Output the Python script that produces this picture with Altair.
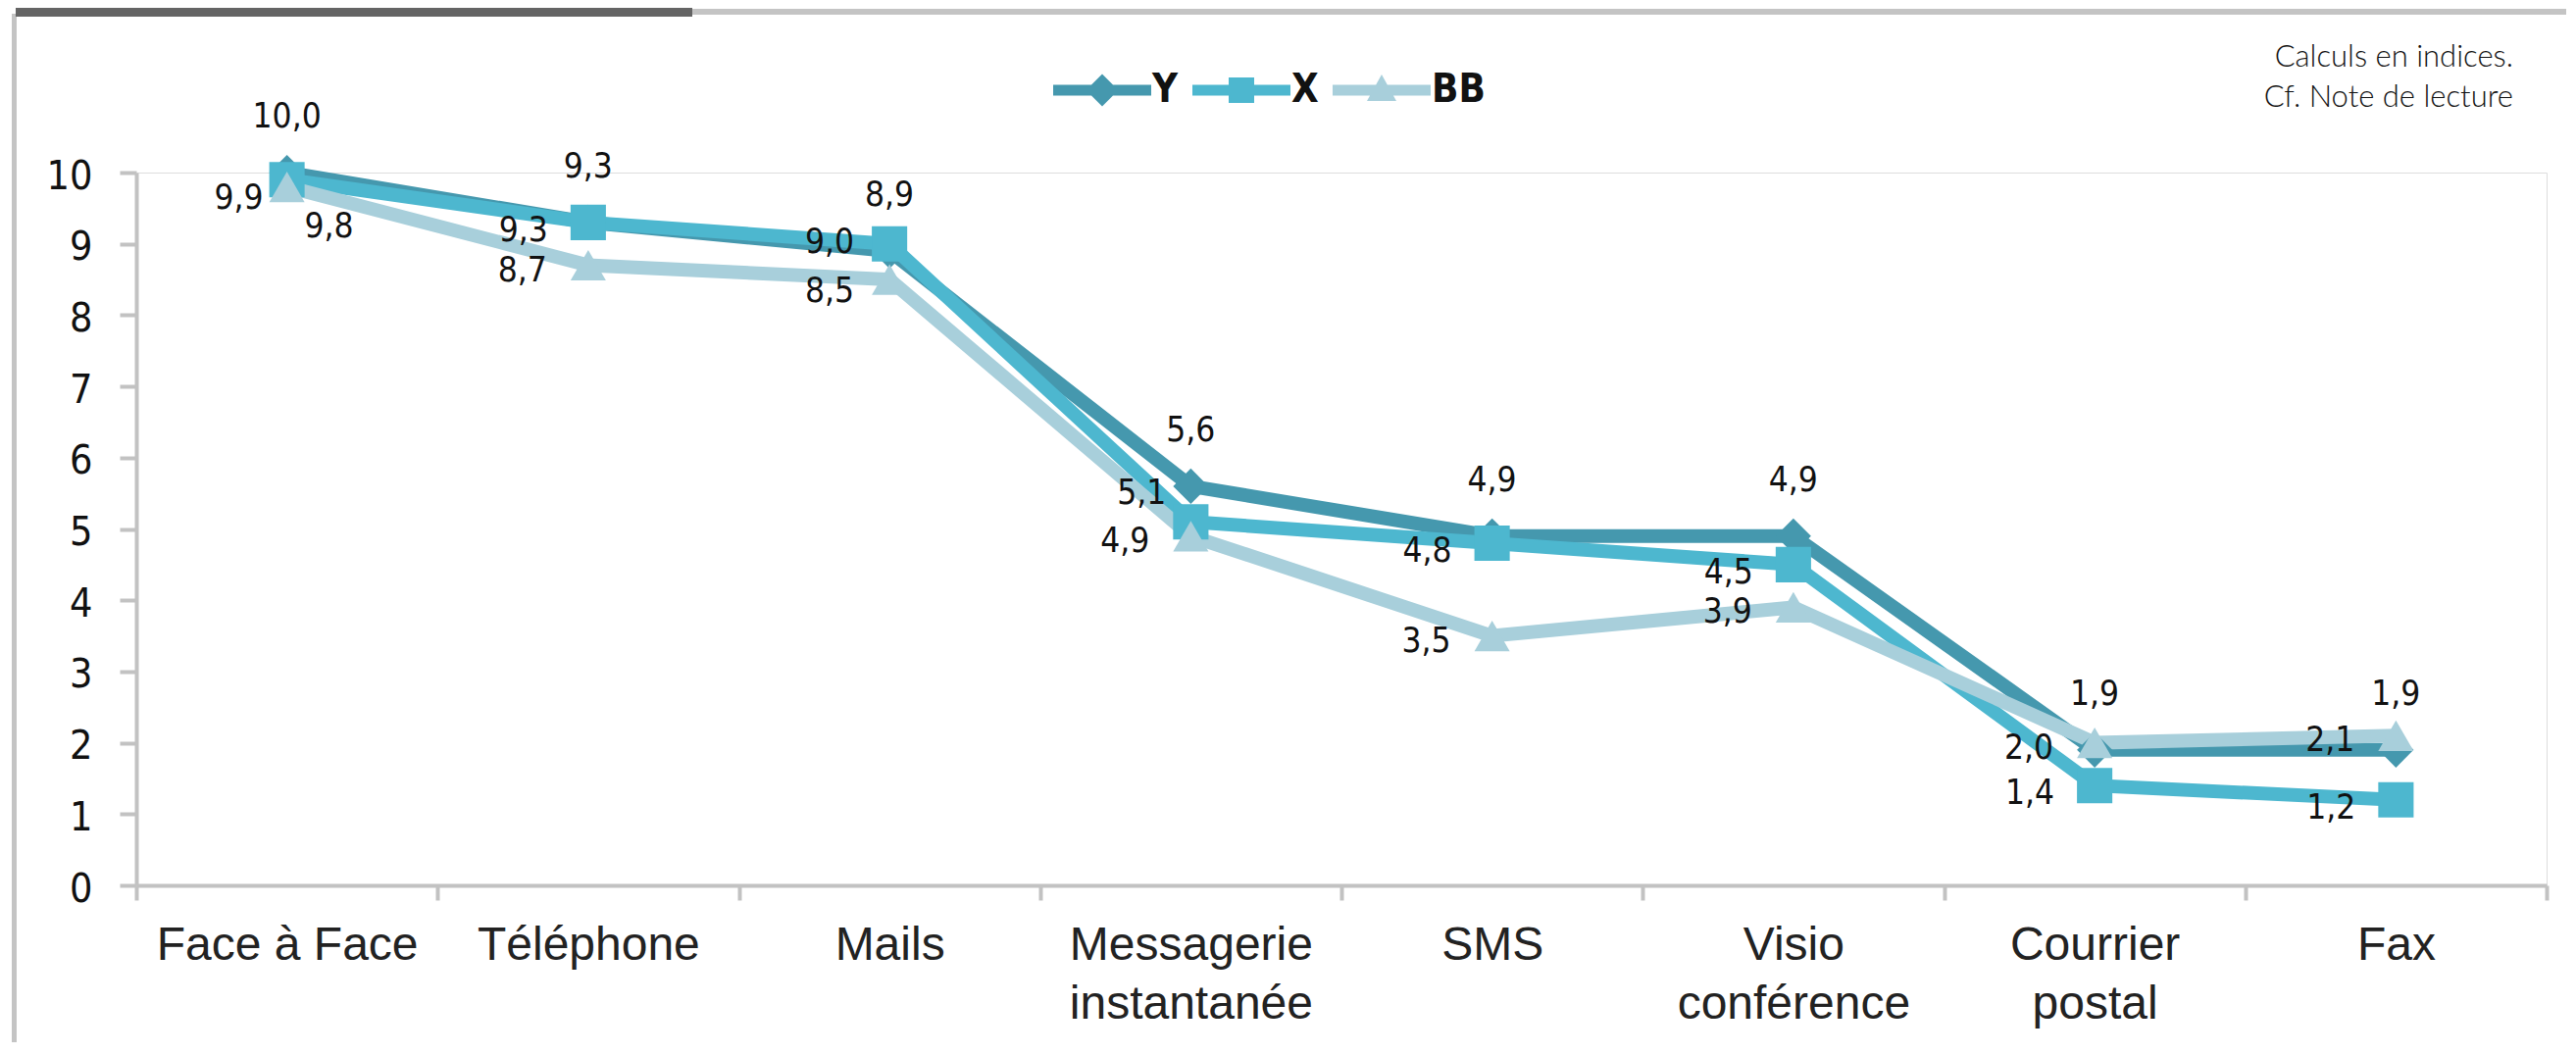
import altair as alt
import pandas as pd

# ---------------- data ----------------
categories = ["Face à Face", "Téléphone", "Mails", "Messagerie\ninstantanée",
              "SMS", "Visio\nconférence", "Courrier\npostal", "Fax"]
series_names = ["Y", "X", "BB"]
y_values = [10.0, 9.3, 8.9, 5.6, 4.9, 4.9, 1.9, 1.9]
x_values = [9.9, 9.3, 9.0, 5.1, 4.8, 4.5, 1.4, 1.2]
bb_values = [9.8, 8.7, 8.5, 4.9, 3.5, 3.9, 2.0, 2.1]
y_ticks = list(range(0, 11))
note_lines = ["Calculs en indices.", "Cf. Note de lecture"]

# ---------------- styles ----------------
colors = {"Y": "#4598AE", "X": "#4DB7CF", "BB": "#A8CFDB"}
shapes = {"Y": "diamond", "X": "square", "BB": "triangle-up"}
legend_paths = [
    "M-1,-0.11 L1,-0.11 L1,0.11 L-1,0.11 Z M0,-0.33 L0.33,0 L0,0.33 L-0.33,0 Z",
    "M-1,-0.11 L1,-0.11 L1,0.11 L-1,0.11 Z M-0.26,-0.26 L0.26,-0.26 L0.26,0.26 L-0.26,0.26 Z",
    "M-1,-0.11 L1,-0.11 L1,0.11 L-1,0.11 Z M0,-0.32 L0.3,0.22 L-0.3,0.22 Z",
]
NUM_FONT = "DejaVu Sans Condensed, DejaVu Sans, sans-serif"
CAT_FONT = "Liberation Sans, Arial, sans-serif"

# label placement per series: (align, dx, dy) default and per-category overrides
label_style = {
    "Y": (("center", 0, -57), {}),
    "X": (("right", -41, 8), {categories[0]: ("right", -24, 19),
                              categories[2]: ("right", -36, -2),
                              categories[3]: ("right", -25, -29)}),
    "BB": (("right", -42, 5), {categories[0]: ("center", 43, 40),
                               categories[2]: ("right", -36, 12)}),
}

rows = []
for s, vals in zip(series_names, [y_values, x_values, bb_values]):
    for c, v in zip(categories, vals):
        rows.append({"cat": c, "series": s, "v": v})
df = pd.DataFrame(rows)

W, H = 2458, 727

base = alt.Chart(df).transform_calculate(
    lbl="replace(format(datum.v, '.1f'), '.', ',')"
).encode(
    x=alt.X("cat:N", sort=categories, title=None,
            scale=alt.Scale(type="band", paddingInner=0, paddingOuter=0),
            axis=alt.Axis(labelAngle=0, tickBand="extent", tickSize=15, tickWidth=4,
                          tickColor="#c2c2c2", domainColor="#c2c2c2", domainWidth=4,
                          labelFont=CAT_FONT, labelFontSize=48, labelColor="#222222",
                          labelPadding=22, labelLineHeight=60, labelLimit=0,
                          labelExpr="split(datum.label, '\\n')")),
    y=alt.Y("v:Q", title=None,
            scale=alt.Scale(domain=[0, 10], nice=False, zero=True),
            axis=alt.Axis(values=y_ticks, grid=False, tickSize=17, tickWidth=4,
                          tickColor="#c2c2c2", domainColor="#c2c2c2", domainWidth=4,
                          labelFont=NUM_FONT, labelFontSize=41, labelColor="#111111",
                          labelPadding=28, labelOffset=4)),
)

layers = []
for s in series_names:
    layers.append(base.transform_filter(alt.datum.series == s)
                  .mark_line(color=colors[s], strokeWidth=14))
for s in series_names:
    layers.append(base.transform_filter(alt.datum.series == s)
                  .mark_point(shape=shapes[s], filled=True, opacity=1,
                              color=colors[s], size=1300))

# data labels
lab_common = dict(font=NUM_FONT, fontSize=35, color="#111111", baseline="middle")
for s in series_names:
    default, overrides = label_style[s]
    groups = {}
    for c in categories:
        groups.setdefault(overrides.get(c, default), []).append(c)
    for (al, dx, dy), cats in groups.items():
        layers.append(
            base.transform_filter(alt.datum.series == s)
            .transform_filter(alt.FieldOneOfPredicate(field="cat", oneOf=cats))
            .mark_text(align=al, dx=dx, dy=dy, **lab_common)
            .encode(text="lbl:N"))

# legend (driven by an empty layer)
leg = dict(orient="none", direction="horizontal", legendX=935, legendY=-134,
           symbolSize=10000, symbolStrokeWidth=0, labelFont=NUM_FONT,
           labelFontSize=40, labelFontWeight="bold", labelColor="#111111",
           labelOffset=1, columnPadding=14, padding=0)
legend_layer = base.transform_filter("false").mark_point(filled=True, opacity=1).encode(
    color=alt.Color("series:N", title=None,
                    scale=alt.Scale(domain=series_names, range=[colors[s] for s in series_names]),
                    legend=alt.Legend(**leg)),
    shape=alt.Shape("series:N", title=None,
                    scale=alt.Scale(domain=series_names, range=legend_paths),
                    legend=alt.Legend(**leg)),
)
layers.append(legend_layer)

# decorations: frame bars and note
one = alt.Chart(pd.DataFrame({"a": [0]}))
layers.append(one.mark_rect(color="#c4c4c4").encode(
    x=alt.value(-127), x2=alt.value(-122), y=alt.value(-162), y2=alt.value(887)))
layers.append(one.mark_rect(color="#c4c4c4").encode(
    x=alt.value(567), x2=alt.value(2478), y=alt.value(-167), y2=alt.value(-161)))
layers.append(one.mark_rect(color="#646464").encode(
    x=alt.value(-123), x2=alt.value(567), y=alt.value(-168), y2=alt.value(-159)))
note_y = [-117, -76]
for txt, yy in zip(note_lines, note_y):
    layers.append(one.mark_text(text=txt, align="right", baseline="middle",
                                font="Lato, Open Sans, sans-serif", fontWeight=300,
                                fontSize=31, color="#111111")
                  .encode(x=alt.value(2424), y=alt.value(yy)))

chart = alt.layer(*layers).properties(
    width=W, height=H,
    autosize=alt.AutoSizeParams(type="none"),
    padding={"left": 131, "top": 168, "right": 20, "bottom": 160},
).configure_view(stroke=None).configure(background="white")

chart.save("out.html", embed_options={"renderer": "svg", "actions": False})
